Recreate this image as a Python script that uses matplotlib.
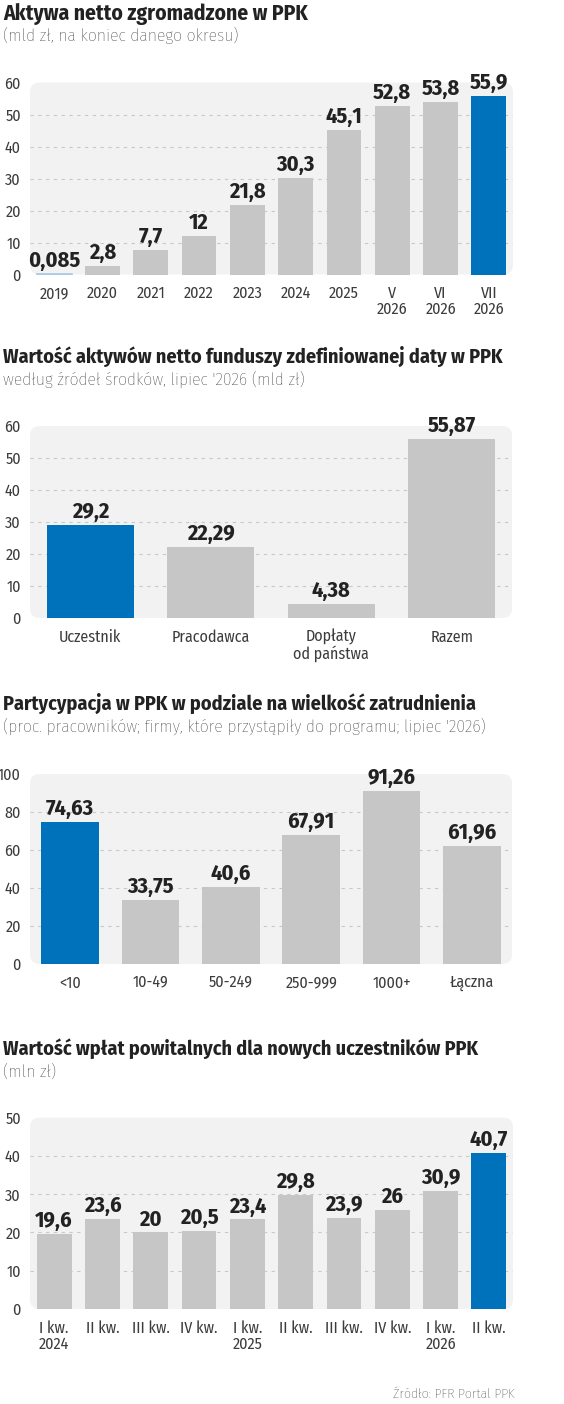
import matplotlib
matplotlib.use("Agg")
import matplotlib.pyplot as plt
from matplotlib.patches import FancyBboxPatch

FAM = ['Fira Sans Condensed', 'Roboto Condensed', 'Liberation Sans', 'DejaVu Sans']
plt.rcParams['font.family'] = FAM

# ---------------- data ----------------
c1_labels = ["2019", "2020", "2021", "2022", "2023", "2024", "2025", "V\n2026", "VI\n2026", "VII\n2026"]
c1_values = [0.085, 2.8, 7.7, 12, 21.8, 30.3, 45.1, 52.8, 53.8, 55.9]
c1_text = ["0,085", "2,8", "7,7", "12", "21,8", "30,3", "45,1", "52,8", "53,8", "55,9"]

c2_labels = ["Uczestnik", "Pracodawca", "Dopłaty\nod państwa", "Razem"]
c2_values = [29.2, 22.29, 4.38, 55.87]
c2_text = ["29,2", "22,29", "4,38", "55,87"]

c3_labels = ["<10", "10-49", "50-249", "250-999", "1000+", "Łączna"]
c3_values = [74.63, 33.75, 40.6, 67.91, 91.26, 61.96]
c3_text = ["74,63", "33,75", "40,6", "67,91", "91,26", "61,96"]

c4_labels = ["I kw.\n2024", "II kw.", "III kw.", "IV kw.", "I kw.\n2025", "II kw.",
             "III kw.", "IV kw.", "I kw.\n2026", "II kw."]
c4_values = [19.6, 23.6, 20, 20.5, 23.4, 29.8, 23.9, 26, 30.9, 40.7]
c4_text = ["19,6", "23,6", "20", "20,5", "23,4", "29,8", "23,9", "26", "30,9", "40,7"]

titles = [
    "Aktywa netto zgromadzone w PPK",
    "Wartość aktywów netto funduszy zdefiniowanej daty w PPK",
    "Partycypacja w PPK w podziale na wielkość zatrudnienia",
    "Wartość wpłat powitalnych dla nowych uczestników PPK",
]
subtitles = [
    "(mld zł, na koniec danego okresu)",
    "według źródeł środków, lipiec '2026 (mld zł)",
    "(proc. pracowników; firmy, które przystąpiły do programu; lipiec '2026)",
    "(mln zł)",
]
source = "Źródło: PFR Portal PPK"

# ---------------- style ----------------
W, H = 564, 1404
BLUE = "#0071bb"
GREY = "#c6c6c6"
PANEL = "#f2f2f2"
GRID = "#c8c8c8"
DARK = "#222222"
TICK = "#3c3c3c"

fig = plt.figure(figsize=(W / 100, H / 100), dpi=100)
fig.patch.set_facecolor("white")


def px_axes(x0, y0, x1, y1):
    return fig.add_axes([x0 / W, 1 - y1 / H, (x1 - x0) / W, (y1 - y0) / H])


def draw(ax, labels, values, texts, colors, ymax, ystep, x0, y0, x1, y1, linesp=1.0):
    n = len(values)
    ax.set_facecolor("none")
    ax.set_xlim(-0.5, n - 0.5)
    ax.set_ylim(0, ymax)
    for s in ax.spines.values():
        s.set_visible(False)
    aw, ah = x1 - x0, y1 - y0
    panel = FancyBboxPatch((0, 0), 1, 1, boxstyle="round,pad=0,rounding_size=0.02",
                           transform=ax.transAxes, facecolor=PANEL, edgecolor="none",
                           mutation_aspect=aw / ah, zorder=0, clip_on=False)
    ax.add_patch(panel)
    for g in range(ystep, ymax, ystep):
        ax.axhline(g, color=GRID, lw=0.8, ls=(0, (3, 4)), zorder=1)
    xs = list(range(n))
    bars = ax.bar(xs, values, width=0.72, color=colors, zorder=2)
    for x, v, t in zip(xs, values, texts):
        ax.annotate(t, (x, v), xytext=(0, 5), textcoords="offset points",
                    ha="center", va="baseline", fontsize=16, fontweight="bold",
                    color=DARK, zorder=3)
    ax.set_yticks(range(0, ymax + 1, ystep))
    ax.set_xticks(xs)
    ax.set_xticklabels(labels, linespacing=linesp)
    ax.tick_params(axis="both", length=0, labelsize=11.5, labelcolor=TICK)
    ax.tick_params(axis="x", pad=8)
    ax.tick_params(axis="y", pad=6.5)
    return bars


c1_colors = ["#a9c9e4"] + [GREY] * 8 + [BLUE]
ax1 = px_axes(30, 82.5, 513, 274.5)
b1 = draw(ax1, c1_labels, c1_values, c1_text, c1_colors, 60, 10, 30, 82.5, 513, 274.5)
b1[0].set_edgecolor("#a9c9e4")
b1[0].set_linewidth(1.2)

c2_colors = [BLUE, GREY, GREY, GREY]
ax2 = px_axes(30, 426, 512, 618)
draw(ax2, c2_labels, c2_values, c2_text, c2_colors, 60, 10, 30, 426, 512, 618)

c3_colors = [BLUE] + [GREY] * 5
ax3 = px_axes(30, 774, 512, 964)
draw(ax3, c3_labels, c3_values, c3_text, c3_colors, 100, 20, 30, 774, 512, 964)

c4_colors = [GREY] * 9 + [BLUE]
ax4 = px_axes(30, 1117.7, 513, 1309)
draw(ax4, c4_labels, c4_values, c4_text, c4_colors, 50, 10, 30, 1117.7, 513, 1309)

title_base = [20, 363.3, 710, 1055]
sub_base = [41.5, 385, 731.7, 1076.7]
title_size = [15.5, 14.5, 14.5, 14.5]
for t, s, tb, sb, ts in zip(titles, subtitles, title_base, sub_base, title_size):
    fig.text(3 / W, 1 - tb / H, t, fontsize=ts, fontweight="bold", color=DARK,
             va="baseline", ha="left")
    fig.text(3 / W, 1 - sb / H, s, fontsize=12.7, fontweight="light", color="#222222",
             va="baseline", ha="left")

fig.text(515 / W, 1 - 1398.3 / H, source, fontsize=10, fontweight="light", color="#222222",
         va="baseline", ha="right")

fig.savefig("out.png", dpi=100, facecolor="white")
